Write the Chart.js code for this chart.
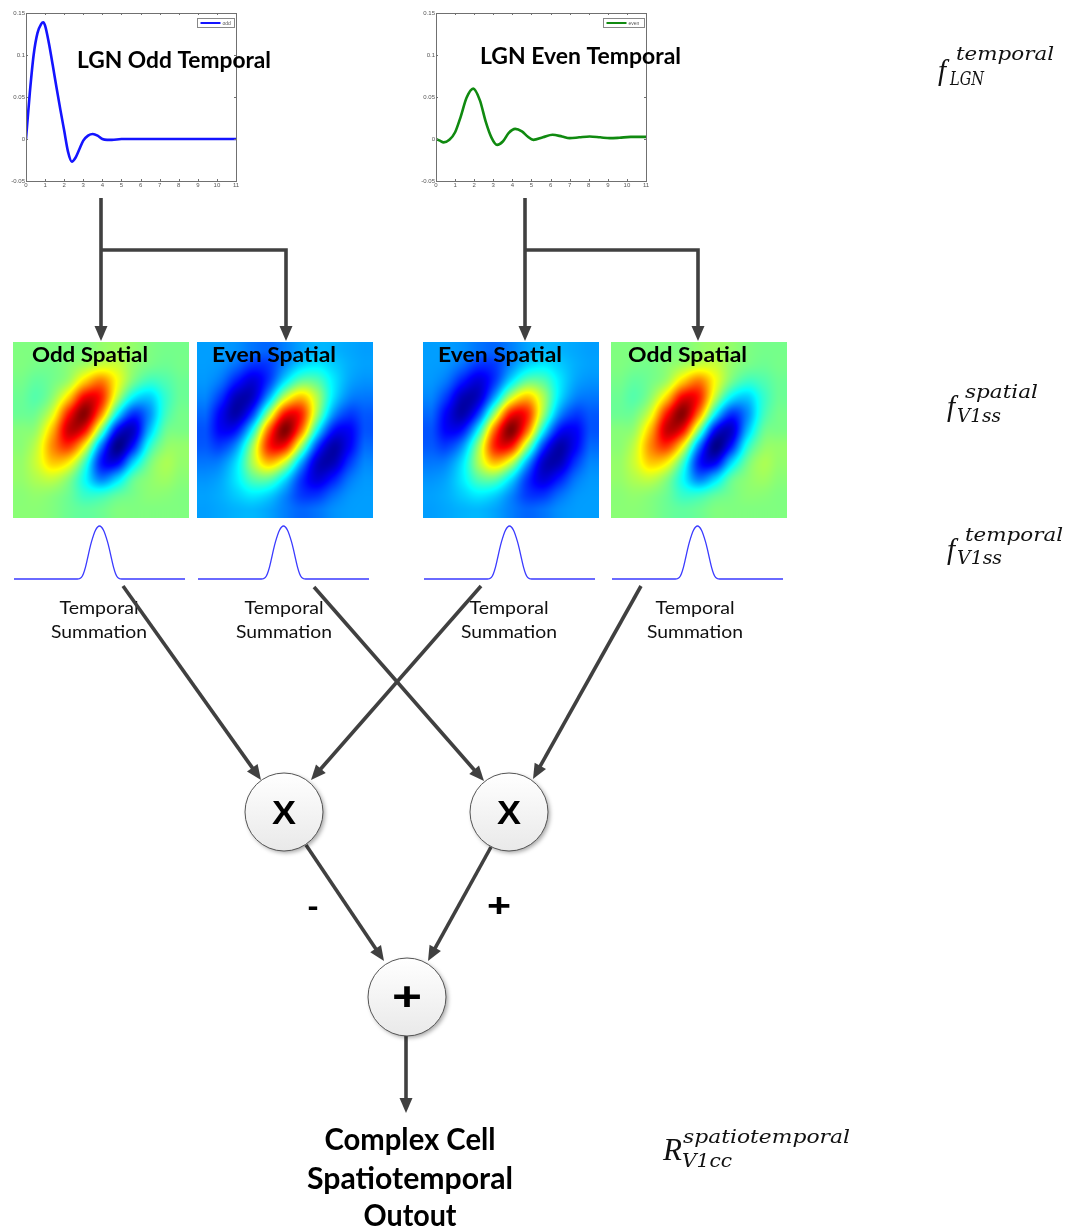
<!DOCTYPE html>
<html>
<head>
<meta charset="utf-8">
<script src="https://cdn.jsdelivr.net/npm/chart.js@4.4.0/dist/chart.umd.min.js"></script>
<style>
  html, body { margin: 0; padding: 0; background: #fff; }
  #page { position: relative; width: 1070px; height: 1228px; overflow: hidden; }
  #page canvas { position: absolute; }
</style>
</head>
<body>
<div id="page"></div>
<script>
// ---- data ----

// LGN odd temporal kernel (time, response)
const LGN_ODD_T = [0, 0.2, 0.4, 0.6, 0.8, 0.9, 1.0, 1.2, 1.4, 1.6, 1.8, 2.0, 2.2, 2.4, 2.6, 2.8, 3.0, 3.25, 3.5, 3.75, 4.0, 4.25, 4.5, 5, 6, 7, 8, 9, 10, 11];
const LGN_ODD_V = [0, 0.055, 0.1, 0.126, 0.137, 0.139, 0.135, 0.114, 0.088, 0.061, 0.035, 0.01, -0.015, -0.027, -0.022, -0.012, -0.002, 0.004, 0.006, 0.004, 0.0, -0.001, -0.001, 0, 0, 0, 0, 0, 0, 0];

// LGN even temporal kernel
const LGN_EVEN_T = [0, 0.2, 0.4, 0.7, 1.0, 1.3, 1.6, 1.95, 2.3, 2.6, 2.9, 3.2, 3.5, 3.8, 4.15, 4.5, 4.8, 5.1, 5.6, 6.1, 6.6, 7.0, 7.5, 8.05, 8.6, 9.1, 9.6, 10.2, 11];
const LGN_EVEN_V = [0, -0.002, -0.004, -0.001, 0.008, 0.027, 0.049, 0.06, 0.046, 0.021, 0.002, -0.007, -0.003, 0.007, 0.012, 0.009, 0.003, -0.001, 0.002, 0.005, 0.003, 0.001, 0.002, 0.003, 0.002, 0.001, 0.0015, 0.0025, 0.0025];

const LGN_X_TICKS = [0, 1, 2, 3, 4, 5, 6, 7, 8, 9, 10, 11];
const LGN_Y_TICKS = [-0.05, 0, 0.05, 0.1, 0.15];
const LGN_Y_TICK_LABELS = ['-0.05', '0', '0.05', '0.1', '0.15'];
const LGN_LABELS = ['odd', 'even'];
const LGN_TITLES = ['LGN Odd Temporal', 'LGN Even Temporal'];

// V1 simple-cell temporal profile (same under all four panels)
const V1_T = [-85, -40, -22, -20, -18, -16, -14, -12, -10, -8, -4, 0, 4, 8, 10, 12, 14, 16, 18, 20, 22, 40, 85];
const V1_V = [0, 0, 0, 0.005, 0.03, 0.1, 0.22, 0.38, 0.55, 0.7, 0.92, 1, 0.92, 0.7, 0.55, 0.38, 0.22, 0.1, 0.03, 0.005, 0, 0, 0];

// spatial receptive fields, 11x11, colour index 0..1 (jet)
const ODD_SPATIAL = [
  [.50, .50, .50, .50, .50, .52, .53, .52, .50, .49, .49],
  [.50, .49, .49, .51, .54, .58, .575, .52, .49, .48, .49],
  [.49, .47, .49, .54, .68, .76, .62, .49, .43, .45, .48],
  [.48, .46, .52, .68, .894, .849, .56, .36, .32, .42, .48],
  [.48, .49, .60, .86, .988, .747, .375, .175, .258, .43, .49],
  [.505, .53, .70, .931, .87, .50, .13, .069, .30, .47, .495],
  [.51, .57, .742, .825, .625, .253, .012, .14, .40, .51, .52],
  [.52, .58, .68, .64, .44, .151, .106, .32, .48, .54, .52],
  [.52, .55, .57, .51, .38, .24, .32, .46, .51, .53, .51],
  [.51, .52, .51, .48, .425, .42, .46, .49, .51, .51, .50],
  [.51, .51, .50, .48, .47, .48, .50, .50, .50, .50, .50]
];
const EVEN_SPATIAL = [
  [.28, .278, .266, .239, .225, .25, .285, .304, .30, .289, .28],
  [.279, .268, .225, .168, .18, .263, .338, .362, .33, .296, .282],
  [.273, .234, .14, .085, .183, .359, .481, .464, .36, .288, .267],
  [.256, .171, .051, .077, .303, .581, .695, .551, .352, .254, .24],
  [.228, .114, .045, .194, .54, .862, .845, .534, .275, .184, .212],
  [.206, .12, .145, .387, .776, .996, .776, .387, .145, .12, .206],
  [.212, .184, .275, .534, .845, .862, .54, .194, .045, .114, .228],
  [.24, .254, .352, .551, .695, .581, .303, .077, .051, .171, .256],
  [.267, .288, .36, .464, .481, .359, .183, .085, .14, .234, .273],
  [.282, .296, .33, .362, .338, .263, .18, .168, .225, .268, .279],
  [.28, .289, .30, .304, .285, .25, .225, .239, .266, .278, .28]
];
const PANEL_KINDS = ['odd', 'even', 'even', 'odd'];
const PANEL_LABELS = ['Odd Spatial', 'Even Spatial', 'Even Spatial', 'Odd Spatial'];
const SUM_LINES = ['Temporal', 'Summation'];
const OPS = ['X', 'X', '+'];
const SIGNS = ['-', '+'];
const OUTPUT_LINES = ['Complex Cell', 'Spatiotemporal', 'Outout'];

// ---- layout (pixels) ----
const LGN_LEFT = [0, 410];
const LGN_COLORS = ['#1414ff', '#108a10'];
const LGN_LEGEND_W = [37, 41];
const LGN_TITLE_POS = [{ x: 77, y: 68, w: 194 }, { x: 480, y: 64, w: 201 }];
const PANEL_LEFT = [13, 197, 423, 611];
const PANEL_TOP = 342, PANEL_SIZE = 176;
const PANEL_LABEL_POS = [{ dx: 19, w: 116 }, { dx: 15, w: 124 }, { dx: 15, w: 124 }, { dx: 17, w: 119 }];
const CURVE_TOP = 520;
const ARROW_COLOR = '#404040';
const ARROWS = [
  [[101, 198], [101, 341]],
  [[101, 250], [286, 250], [286, 341]],
  [[525, 198], [525, 341]],
  [[525, 250], [698, 250], [698, 341]],
  [[123, 586], [261, 780]],
  [[314, 587], [484, 781]],
  [[481, 586], [311, 780]],
  [[641, 586], [533, 779]],
  [[306, 845], [384, 961]],
  [[491, 847], [428, 961]],
  [[406, 1036], [406, 1113]]
];
const NODES = [{ x: 284, y: 812 }, { x: 509, y: 812 }, { x: 407, y: 997 }];
const NODE_R = 39;

const page = document.getElementById('page');
function makeCanvas(left, top, w, h, z) {
  const c = document.createElement('canvas');
  c.width = w; c.height = h;
  c.style.left = left + 'px'; c.style.top = top + 'px';
  c.style.width = w + 'px'; c.style.height = h + 'px';
  c.style.zIndex = z || 1;
  page.appendChild(c);
  return c;
}

// draw text squeezed/stretched to a given width
function fitText(ctx, text, x, y, width, font, align) {
  ctx.font = font;
  const m = ctx.measureText(text).width;
  const sx = width ? width / m : 1;
  ctx.save();
  ctx.translate(x, y);
  ctx.scale(sx, 1);
  ctx.textAlign = align || 'left';
  ctx.textBaseline = 'alphabetic';
  ctx.fillText(text, 0, 0);
  ctx.restore();
}

function jet(v) {
  const c = t => Math.max(0, Math.min(1, t));
  return [c(1.5 - Math.abs(4 * v - 3)), c(1.5 - Math.abs(4 * v - 2)), c(1.5 - Math.abs(4 * v - 1))];
}

// bicubic lookup in a grid, used only for shading the image
function cubic(p0, p1, p2, p3, t) {
  return p1 + 0.5 * t * (p2 - p0 + t * (2 * p0 - 5 * p1 + 4 * p2 - p3 + t * (3 * (p1 - p2) + p3 - p0)));
}
function sampleGrid(g, gx, gy) {
  const n = g.length, m = g[0].length;
  const cx = Math.max(0, Math.min(m - 1, gx)), cy = Math.max(0, Math.min(n - 1, gy));
  const ix = Math.min(m - 2, Math.floor(cx)), iy = Math.min(n - 2, Math.floor(cy));
  const tx = cx - ix, ty = cy - iy;
  const at = (r, c) => g[Math.max(0, Math.min(n - 1, r))][Math.max(0, Math.min(m - 1, c))];
  const rows = [-1, 0, 1, 2].map(d => cubic(at(iy + d, ix - 1), at(iy + d, ix), at(iy + d, ix + 1), at(iy + d, ix + 2), tx));
  return cubic(rows[0], rows[1], rows[2], rows[3], ty);
}

// MATLAB-like box, inward ticks, tick labels and legend
const matlabAxes = {
  id: 'matlabAxes',
  afterDraw(chart) {
    const { ctx, chartArea: a, scales: { x, y } } = chart;
    ctx.save();
    ctx.strokeStyle = '#707070';
    ctx.lineWidth = 1;
    ctx.strokeRect(Math.round(a.left) + 0.5, Math.round(a.top) + 0.5, Math.round(a.right - a.left), Math.round(a.bottom - a.top));
    ctx.beginPath();
    LGN_X_TICKS.forEach(v => {
      const px = Math.round(x.getPixelForValue(v)) + 0.5;
      ctx.moveTo(px, a.bottom); ctx.lineTo(px, a.bottom - 2);
      ctx.moveTo(px, a.top); ctx.lineTo(px, a.top + 2);
    });
    LGN_Y_TICKS.forEach(v => {
      const py = Math.round(y.getPixelForValue(v)) + 0.5;
      ctx.moveTo(a.left, py); ctx.lineTo(a.left + 2, py);
      ctx.moveTo(a.right, py); ctx.lineTo(a.right - 2, py);
    });
    ctx.stroke();

    ctx.fillStyle = '#555';
    ctx.font = '6px "Liberation Sans"';
    ctx.textAlign = 'center';
    ctx.textBaseline = 'top';
    LGN_X_TICKS.forEach(v => ctx.fillText(String(v), x.getPixelForValue(v), a.bottom + 1));
    ctx.textAlign = 'right';
    ctx.textBaseline = 'middle';
    LGN_Y_TICKS.forEach((v, i) => ctx.fillText(LGN_Y_TICK_LABELS[i], a.left - 1, y.getPixelForValue(v)));

    // legend box in the top right corner
    const ds = chart.data.datasets[0];
    const w = chart.options.plugins.matlabAxes.legendWidth;
    const bx = Math.round(a.right - 2 - w) + 0.5, by = Math.round(a.top + 5) + 0.5;
    ctx.fillStyle = '#fff';
    ctx.fillRect(bx, by, w, 9);
    ctx.strokeStyle = '#888';
    ctx.strokeRect(bx, by, w, 9);
    ctx.strokeStyle = ds.borderColor;
    ctx.lineWidth = 2;
    ctx.beginPath();
    ctx.moveTo(bx + 3, by + 4.5); ctx.lineTo(bx + 23, by + 4.5);
    ctx.stroke();
    ctx.fillStyle = '#555';
    ctx.textAlign = 'left';
    ctx.font = '5px "Liberation Sans"';
    ctx.fillText(ds.label, bx + 25, by + 4.8);
    ctx.restore();
  }
};

function lgnChart(i, xs, ys) {
  const c = makeCanvas(LGN_LEFT[i], 0, 250, 200, 1);
  return new Chart(c, {
    type: 'line',
    data: {
      datasets: [{
        label: LGN_LABELS[i],
        data: xs.map((t, k) => ({ x: t, y: ys[k] })),
        borderColor: LGN_COLORS[i],
        borderWidth: 2.6,
        pointRadius: 0,
        cubicInterpolationMode: 'monotone',
        fill: false
      }]
    },
    options: {
      responsive: false,
      animation: false,
      layout: { padding: { left: 26, top: 13, right: 14, bottom: 19 } },
      scales: {
        x: { type: 'linear', min: 0, max: 11, display: false },
        y: { type: 'linear', min: -0.05, max: 0.15, display: false }
      },
      plugins: {
        legend: { display: false },
        tooltip: { enabled: false },
        matlabAxes: { legendWidth: LGN_LEGEND_W[i] }
      }
    },
    plugins: [matlabAxes]
  });
}

function heatChart(i) {
  const grid = PANEL_KINDS[i] === 'odd' ? ODD_SPATIAL : EVEN_SPATIAL;
  const c = makeCanvas(PANEL_LEFT[i], PANEL_TOP, PANEL_SIZE, PANEL_SIZE, 1);
  const heat = {
    id: 'heat',
    beforeDatasetsDraw(chart) {
      const { ctx, chartArea: a, scales: { x, y } } = chart;
      const w = Math.round(a.right - a.left), h = Math.round(a.bottom - a.top);
      const img = ctx.createImageData(w, h);
      for (let j = 0; j < h; j++) {
        const gy = y.getValueForPixel(a.top + j + 0.5);
        for (let k = 0; k < w; k++) {
          const gx = x.getValueForPixel(a.left + k + 0.5);
          const v = Math.max(0, Math.min(1, sampleGrid(grid, gx, gy)));
          const col = jet(v), o = (j * w + k) * 4;
          img.data[o] = col[0] * 255; img.data[o + 1] = col[1] * 255; img.data[o + 2] = col[2] * 255; img.data[o + 3] = 255;
        }
      }
      ctx.putImageData(img, Math.round(a.left), Math.round(a.top));
      ctx.fillStyle = '#000';
      const lp = PANEL_LABEL_POS[i];
      fitText(ctx, PANEL_LABELS[i], a.left + lp.dx, a.top + 20, lp.w, '700 21px Lato');
    }
  };
  return new Chart(c, {
    type: 'scatter',
    data: { datasets: [] },
    options: {
      responsive: false,
      animation: false,
      layout: { padding: 0 },
      scales: {
        x: { type: 'linear', min: -0.5, max: grid[0].length - 0.5, display: false },
        y: { type: 'linear', min: -0.5, max: grid.length - 0.5, reverse: true, display: false }
      },
      plugins: { legend: { display: false }, tooltip: { enabled: false } }
    },
    plugins: [heat]
  });
}

function curveChart(i) {
  const c = makeCanvas(PANEL_LEFT[i], CURVE_TOP, 174, 64, 1);
  return new Chart(c, {
    type: 'line',
    data: {
      datasets: [{
        data: V1_T.map((t, k) => ({ x: t, y: V1_V[k] })),
        borderColor: '#3a3aff',
        borderWidth: 1.3,
        pointRadius: 0,
        cubicInterpolationMode: 'monotone',
        fill: false,
        clip: false
      }]
    },
    options: {
      responsive: false,
      animation: false,
      layout: { padding: { left: 1, right: 2, top: 6, bottom: 5 } },
      scales: {
        x: { type: 'linear', min: -85, max: 85, display: false },
        y: { type: 'linear', min: 0, max: 1, display: false }
      },
      plugins: { legend: { display: false }, tooltip: { enabled: false } }
    }
  });
}

function drawArrow(ctx, pts) {
  const n = pts.length;
  const [x1, y1] = pts[n - 2], [x2, y2] = pts[n - 1];
  const ang = Math.atan2(y2 - y1, x2 - x1);
  const head = 15, hw = 6.5;
  const bx = x2 - head * Math.cos(ang), by = y2 - head * Math.sin(ang);
  ctx.beginPath();
  ctx.moveTo(pts[0][0], pts[0][1]);
  for (let k = 1; k < n - 1; k++) ctx.lineTo(pts[k][0], pts[k][1]);
  ctx.lineTo(bx + 2 * Math.cos(ang), by + 2 * Math.sin(ang));
  ctx.stroke();
  ctx.beginPath();
  ctx.moveTo(x2, y2);
  ctx.lineTo(bx - hw * Math.sin(ang), by + hw * Math.cos(ang));
  ctx.lineTo(bx + hw * Math.sin(ang), by - hw * Math.cos(ang));
  ctx.closePath();
  ctx.fill();
}

function drawMath(ctx, m) {
  ctx.fillStyle = '#111';
  fitText(ctx, m.base, m.bx, m.by, m.bw, 'italic ' + m.bs + 'px "Liberation Serif"');
  fitText(ctx, m.sup, m.px, m.py, m.pw, 'italic 19px "DejaVu Serif"');
  fitText(ctx, m.sub, m.sx, m.sy, m.sw, 'italic 19px "DejaVu Serif"');
}

const MATH = [
  { base: 'f', bx: 938, by: 80, bw: 0, bs: 29, sup: 'temporal', px: 956, py: 60, pw: 98, sub: 'LGN', sx: 950, sy: 85, sw: 34 },
  { base: 'f', bx: 947, by: 416, bw: 0, bs: 29, sup: 'spatial', px: 965, py: 398, pw: 73, sub: 'V1ss', sx: 957, sy: 422, sw: 44 },
  { base: 'f', bx: 947, by: 559, bw: 0, bs: 29, sup: 'temporal', px: 965, py: 541, pw: 98, sub: 'V1ss', sx: 957, sy: 564, sw: 45 },
  { base: 'R', bx: 663, by: 1160, bw: 0, bs: 31, sup: 'spatiotemporal', px: 683, py: 1143, pw: 167, sub: 'V1cc', sx: 682, sy: 1167, sw: 50 }
];

const SUM_CENTERS = [99, 284, 509, 695];

const diagram = {
  id: 'diagram',
  afterDraw(chart) {
    const { ctx, scales: { x, y } } = chart;
    const P = (px, py) => [x.getPixelForValue(px), y.getPixelForValue(py)];
    ctx.save();

    // titles over the LGN plots
    ctx.fillStyle = '#000';
    LGN_TITLES.forEach((t, i) => {
      const p = LGN_TITLE_POS[i];
      const [tx, ty] = P(p.x, p.y);
      fitText(ctx, t, tx, ty, p.w, '700 23px Lato');
    });

    // temporal summation captions
    ctx.fillStyle = '#111';
    SUM_CENTERS.forEach(cx => {
      const [a1, b1] = P(cx, 614);
      fitText(ctx, SUM_LINES[0], a1, b1, 79, '18px Lato', 'center');
      const [a2, b2] = P(cx, 638);
      fitText(ctx, SUM_LINES[1], a2, b2, 96, '18px Lato', 'center');
    });

    // arrows
    ctx.strokeStyle = ARROW_COLOR;
    ctx.fillStyle = ARROW_COLOR;
    ctx.lineWidth = 3.6;
    ctx.lineJoin = 'miter';
    ARROWS.forEach(a => drawArrow(ctx, a.map(p => P(p[0], p[1]))));

    // operator nodes
    NODES.forEach((nd, i) => {
      const [cx, cy] = P(nd.x, nd.y);
      ctx.save();
      ctx.shadowColor = 'rgba(0,0,0,0.35)';
      ctx.shadowBlur = 4;
      ctx.shadowOffsetX = 2;
      ctx.shadowOffsetY = 2;
      const g = ctx.createLinearGradient(cx, cy - NODE_R, cx, cy + NODE_R);
      g.addColorStop(0, '#ffffff');
      g.addColorStop(1, '#e9e9e9');
      ctx.fillStyle = g;
      ctx.beginPath();
      ctx.arc(cx, cy, NODE_R, 0, Math.PI * 2);
      ctx.fill();
      ctx.restore();
      ctx.strokeStyle = '#555';
      ctx.lineWidth = 1;
      ctx.beginPath();
      ctx.arc(cx, cy, NODE_R, 0, Math.PI * 2);
      ctx.stroke();
      ctx.fillStyle = '#000';
      if (OPS[i] === 'X') fitText(ctx, OPS[i], cx, cy + 12, 24, '700 33px "Liberation Sans"', 'center');
      else fitText(ctx, OPS[i], cx, cy + 13, 30, '700 40px "Liberation Sans"', 'center');
    });

    // signs on the output branches
    ctx.fillStyle = '#000';
    let [sx, sy] = P(313, 916);
    fitText(ctx, SIGNS[0], sx, sy, 11, '700 30px "Liberation Sans"', 'center');
    [sx, sy] = P(499, 917);
    fitText(ctx, SIGNS[1], sx, sy, 24, '700 34px "Liberation Sans"', 'center');

    // output caption
    const outY = [1150, 1189, 1226], outW = [171, 206, 93];
    OUTPUT_LINES.forEach((t, i) => {
      const [ox, oy] = P(410, outY[i]);
      fitText(ctx, t, ox, oy, outW[i], '700 30px Lato', 'center');
    });

    // formulas on the right
    MATH.forEach(m => drawMath(ctx, m));
    ctx.restore();
  }
};

lgnChart(0, LGN_ODD_T, LGN_ODD_V);
lgnChart(1, LGN_EVEN_T, LGN_EVEN_V);
[0, 1, 2, 3].forEach(i => { heatChart(i); curveChart(i); });

new Chart(makeCanvas(0, 0, 1070, 1228, 10), {
  type: 'scatter',
  data: { datasets: [] },
  options: {
    responsive: false,
    animation: false,
    layout: { padding: 0 },
    scales: {
      x: { type: 'linear', min: 0, max: 1070, display: false },
      y: { type: 'linear', min: 0, max: 1228, reverse: true, display: false }
    },
    plugins: { legend: { display: false }, tooltip: { enabled: false } }
  },
  plugins: [diagram]
});
</script>
</body>
</html>
